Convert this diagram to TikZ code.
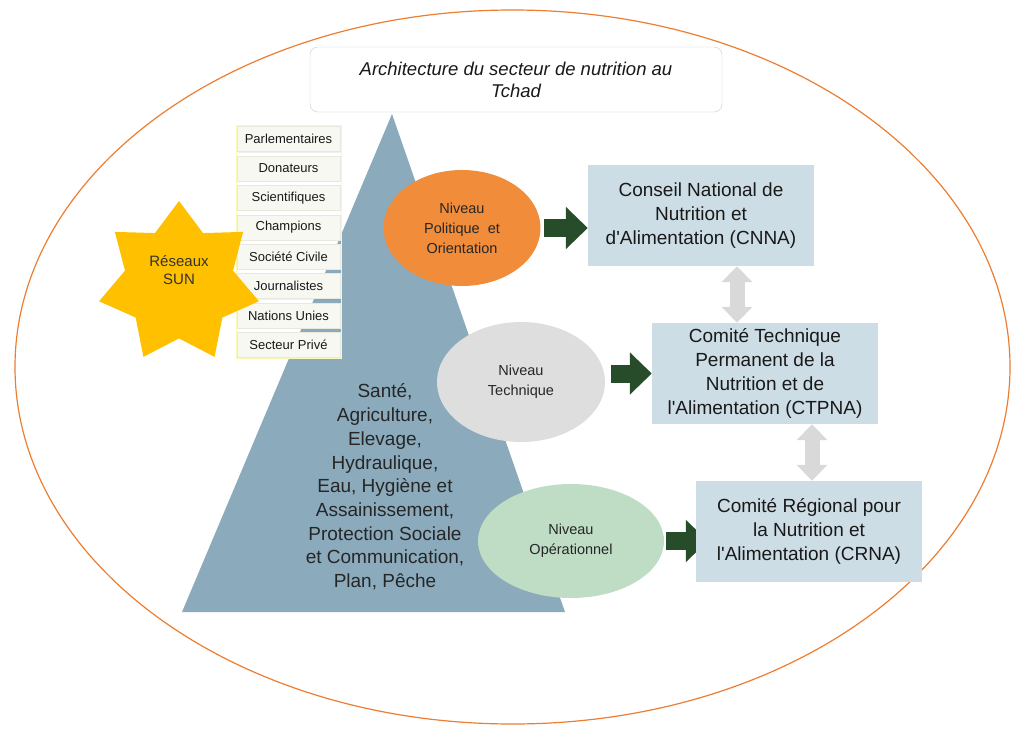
\documentclass[tikz,border=0pt]{standalone}
\usepackage{fontspec}
\setmainfont{Liberation Sans}
\usepackage{xcolor}
\usepackage{tikz}
\usetikzlibrary{arrows.meta, positioning, shapes.geometric, fit, backgrounds, shadows}

\definecolor{frameorange}{RGB}{237,125,49}
\definecolor{pyramid}{RGB}{139,171,189}
\definecolor{organfill}{RGB}{205,221,229}
\definecolor{politicfill}{RGB}{241,140,58}
\definecolor{techfill}{RGB}{222,222,222}
\definecolor{opfill}{RGB}{190,221,196}
\definecolor{arrowgreen}{RGB}{38,76,42}
\definecolor{linkgrey}{RGB}{217,217,217}
\definecolor{sunyellow}{RGB}{255,192,0}
\definecolor{actorfill}{RGB}{248,248,242}
\definecolor{actorline}{RGB}{232,232,222}
\definecolor{actorframe}{RGB}{250,250,180}

\begin{document}
\begin{tikzpicture}[
        x=1pt, y=-1pt,
        % Node styles
        titlebox/.style={rectangle, draw=black!20, fill=white, rounded corners=8pt,
                        minimum width=412pt, minimum height=65pt, align=center, text=black!90,
                        font=\fontsize{18.5}{22}\selectfont\itshape},
        level/.style={ellipse, inner sep=0pt, align=center, text=black!85,
                        font=\fontsize{14.5}{20}\selectfont},
        organ/.style={rectangle, fill=organfill, minimum width=226pt, minimum height=101pt,
                        align=center, text=black!90, font=\fontsize{19}{24}\selectfont},
        actor/.style={rectangle, fill=actorfill, draw=actorline, minimum width=103pt,
                        minimum height=25pt, inner sep=1pt, text=black!90,
                        font=\fontsize{13}{15}\selectfont,
                        drop shadow={shadow xshift=1pt, shadow yshift=-1pt, opacity=0.12}},
        push/.style={draw=arrowgreen, line width=18pt, -{Triangle[length=22pt, width=41pt]}},
        link/.style={draw=linkgrey, line width=15pt,
                        {Triangle[length=16pt, width=30pt]}-{Triangle[length=16pt, width=30pt]}}
    ]
        \useasboundingbox (0,0) rectangle (1013,731);

        % Outer frame
        \node[ellipse, draw=frameorange, line width=1.2pt, minimum width=995pt,
              minimum height=714pt] (frame) at (512.5,367) {};

        % Title
        \node[titlebox] (title) at (516,79.5) {Architecture du secteur de nutrition au\\Tchad};

        % Sector pyramid
        \fill[pyramid] (392,114) -- (565,612) -- (182,612) -- cycle;
        \node[align=center, text=black!85, font=\fontsize{19}{23.7}\selectfont] (sectors) at (385,487)
            {Santé,\\Agriculture,\\Elevage,\\Hydraulique,\\Eau, Hygiène et\\Assainissement,\\Protection Sociale\\et Communication,\\Plan, Pêche};

        % Stakeholders column
        \node[actor] (parl) at (288.5,139) {Parlementaires};
        \node[actor, below=4pt of parl] (don) {Donateurs};
        \node[actor, below=4pt of don] (sci) {Scientifiques};
        \node[actor, below=4pt of sci] (champ) {Champions};
        \node[actor, below=4pt of champ] (civ) {Société Civile};
        \node[actor, below=4pt of civ] (journ) {Journalistes};
        \node[actor, below=4pt of journ] (nu) {Nations Unies};
        \node[actor, below=4pt of nu] (prive) {Secteur Privé};
        \node[draw=actorframe, inner sep=1pt, fit=(parl)(prive)] (actors) {};

        % SUN networks star
        \node[star, star points=7, star point ratio=1.48, minimum size=164pt, inner sep=0pt,
              fill=sunyellow, align=center, text=black!80, font=\fontsize{15}{18}\selectfont]
              (sun) at (179,283) {Réseaux\\SUN\\[8pt]};

        % Levels
        \node[level, fill=politicfill, minimum width=157pt, minimum height=116pt] (politique)
            at (462,228) {Niveau\\Politique\ \ et\\Orientation};
        \node[level, fill=techfill, minimum width=168pt, minimum height=120pt] (technique)
            at (521,382) {Niveau\\Technique};
        \node[level, fill=opfill, minimum width=186pt, minimum height=114pt] (operation)
            at (571,541) {Niveau\\Opérationnel};

        % Bodies
        \node[organ] (cnna) at (701,215.5) {Conseil National de\\Nutrition et\\d\textquotesingle Alimentation (CNNA)};
        \node[organ] (ctpna) at (765,373.5) {Comité Technique\\Permanent de la\\Nutrition et de\\l\textquotesingle Alimentation (CTPNA)};
        \node[organ] (crna) at (809,531.5) {Comité Régional pour\\la Nutrition et\\l\textquotesingle Alimentation (CRNA)};

        % Level to body arrows
        \draw[push] ([xshift=3pt]politique.east) -- (cnna.west |- politique.east);
        \draw[push] ([xshift=6pt]technique.east |- ctpna.west) -- (ctpna.west);
        \begin{scope}[on background layer]
            \draw[push, shorten >=-12pt] ([xshift=2pt]operation.east) -- (operation.east -| crna.west);
        \end{scope}

        % Links between bodies
        \draw[link] ([xshift=36pt]cnna.south) -- ([xshift=36pt]cnna.south |- ctpna.north);
        \draw[link] ([xshift=47pt]ctpna.south) -- ([xshift=47pt]ctpna.south |- crna.north);
    \end{tikzpicture}
\end{document}
